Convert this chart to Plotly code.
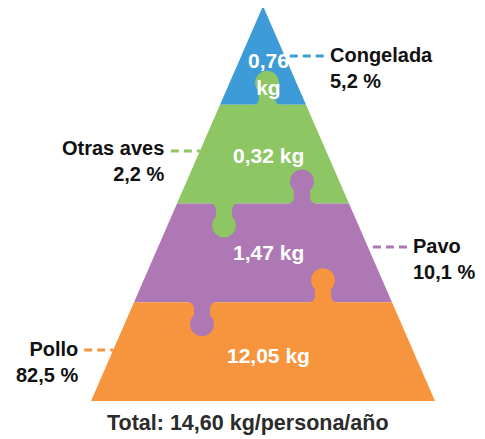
import numpy as np
import plotly.graph_objects as go

# data
categories = ["Congelada", "Otras aves", "Pavo", "Pollo"]
kg_values = [0.76, 0.32, 1.47, 12.05]
percentages = [5.2, 2.2, 10.1, 82.5]
total_kg = 14.60
colors = ["#3d9bd7", "#8dc663", "#ad78b4", "#f7953f"]
label_side = ["right", "left", "right", "left"]

# layout (pixel-like coordinates, y downwards)
W, H = 485, 439
PAD = 8  # default body margin of the html page
CX, APEX_Y, BASE_Y, BASE_HALF = 263, 6, 401, 172
slope = BASE_HALF / (BASE_Y - APEX_Y)
level_h = (BASE_Y - APEX_Y) / len(categories)
leader_y = [56, 151, 247, 350]
label_mid = [68, 161, 259, 362]
value_y = [74, 155, 252, 355]

# puzzle tabs: (boundary index, x offset from center, direction, piece index)
tabs = [(1, 4, -1, 1), (2, 39, -1, 2), (2, -39, 1, 1), (3, 60, -1, 3), (3, -61, 1, 2)]


def half(y):
    return (y - APEX_Y) * slope


def fmt(v, nd=2):
    return f"{v:.{nd}f}".replace(".", ",")


def tab_outline(cx, yb, d):
    r, h, neck = 12, 34, 8
    cy = h - r
    right = [(13, -2), (13, 0), (10.2, 1), (8.9, 2.5), (8.1, 4.5)]
    t0 = np.arctan2(-np.sqrt(r**2 - neck**2), neck)
    t = np.linspace(t0, np.pi - t0, 60)
    arc = list(zip(r * np.cos(t), cy + r * np.sin(t)))
    left = [(-w, dd) for w, dd in reversed(right)]
    pts = right + arc + left
    xs = [cx + w for w, _ in pts]
    ys = [yb + dd * d for _, dd in pts]
    return xs, ys


fig = go.Figure()

for i, c in enumerate(categories):
    y0 = APEX_Y + i * level_h
    y1 = y0 + level_h
    xs = [CX - half(y0), CX + half(y0), CX + half(y1), CX - half(y1)]
    ys = [y0, y0, y1, y1]
    fig.add_trace(go.Scatter(x=xs, y=ys, fill="toself", fillcolor=colors[i],
                             mode="lines", line=dict(width=0), hoverinfo="skip"))

for b, off, d, p in tabs:
    yb = APEX_Y + b * level_h
    xs, ys = tab_outline(CX + off, yb, d)
    fig.add_trace(go.Scatter(x=xs, y=ys, fill="toself", fillcolor=colors[p],
                             mode="lines", line=dict(width=0), hoverinfo="skip"))

font = dict(family="Liberation Sans, Arial, sans-serif", weight="bold")

for i, c in enumerate(categories):
    txt = f"{fmt(kg_values[i])}<br>kg" if i == 0 else f"{fmt(kg_values[i])} kg"
    fig.add_annotation(x=CX + 5, y=value_y[i], text=txt, showarrow=False,
                       font=dict(font, size=21, color="white"),
                       xanchor="center", yanchor="middle")

    # outside labels with dashed leader (dashes start at the label end)
    ly = leader_y[i]
    if label_side[i] == "right":
        x0, x1 = CX + half(ly), CX + half(ly) + 39
        tx, anchor = x1 + 4, "left"
    else:
        x0, x1 = CX - half(ly), CX - half(ly) - 29
        tx, anchor = x1 - 4, "right"
    fig.add_trace(go.Scatter(x=[x1, x0], y=[ly, ly], mode="lines",
                             line=dict(color=colors[i], width=3, dash="8px,5px"),
                             hoverinfo="skip"))
    fig.add_annotation(x=tx, y=label_mid[i], text=f"{c}<br>{fmt(percentages[i], 1)} %",
                       showarrow=False, align=anchor, xanchor=anchor, yanchor="middle",
                       font=dict(font, size=20, color="#111111"))

fig.add_annotation(x=248, y=423, text=f"Total: {fmt(total_kg)} kg/persona/año",
                   showarrow=False, xanchor="center", yanchor="middle",
                   font=dict(font, size=21.5, color="#2b2b2b"))

fig.update_layout(
    width=W - PAD, height=H - PAD, margin=dict(l=0, r=0, t=0, b=0),
    paper_bgcolor="white", plot_bgcolor="white", showlegend=False,
    xaxis=dict(range=[PAD, W], visible=False, fixedrange=True),
    yaxis=dict(range=[H, PAD], visible=False, fixedrange=True),
)

fig.write_html("out.html")
